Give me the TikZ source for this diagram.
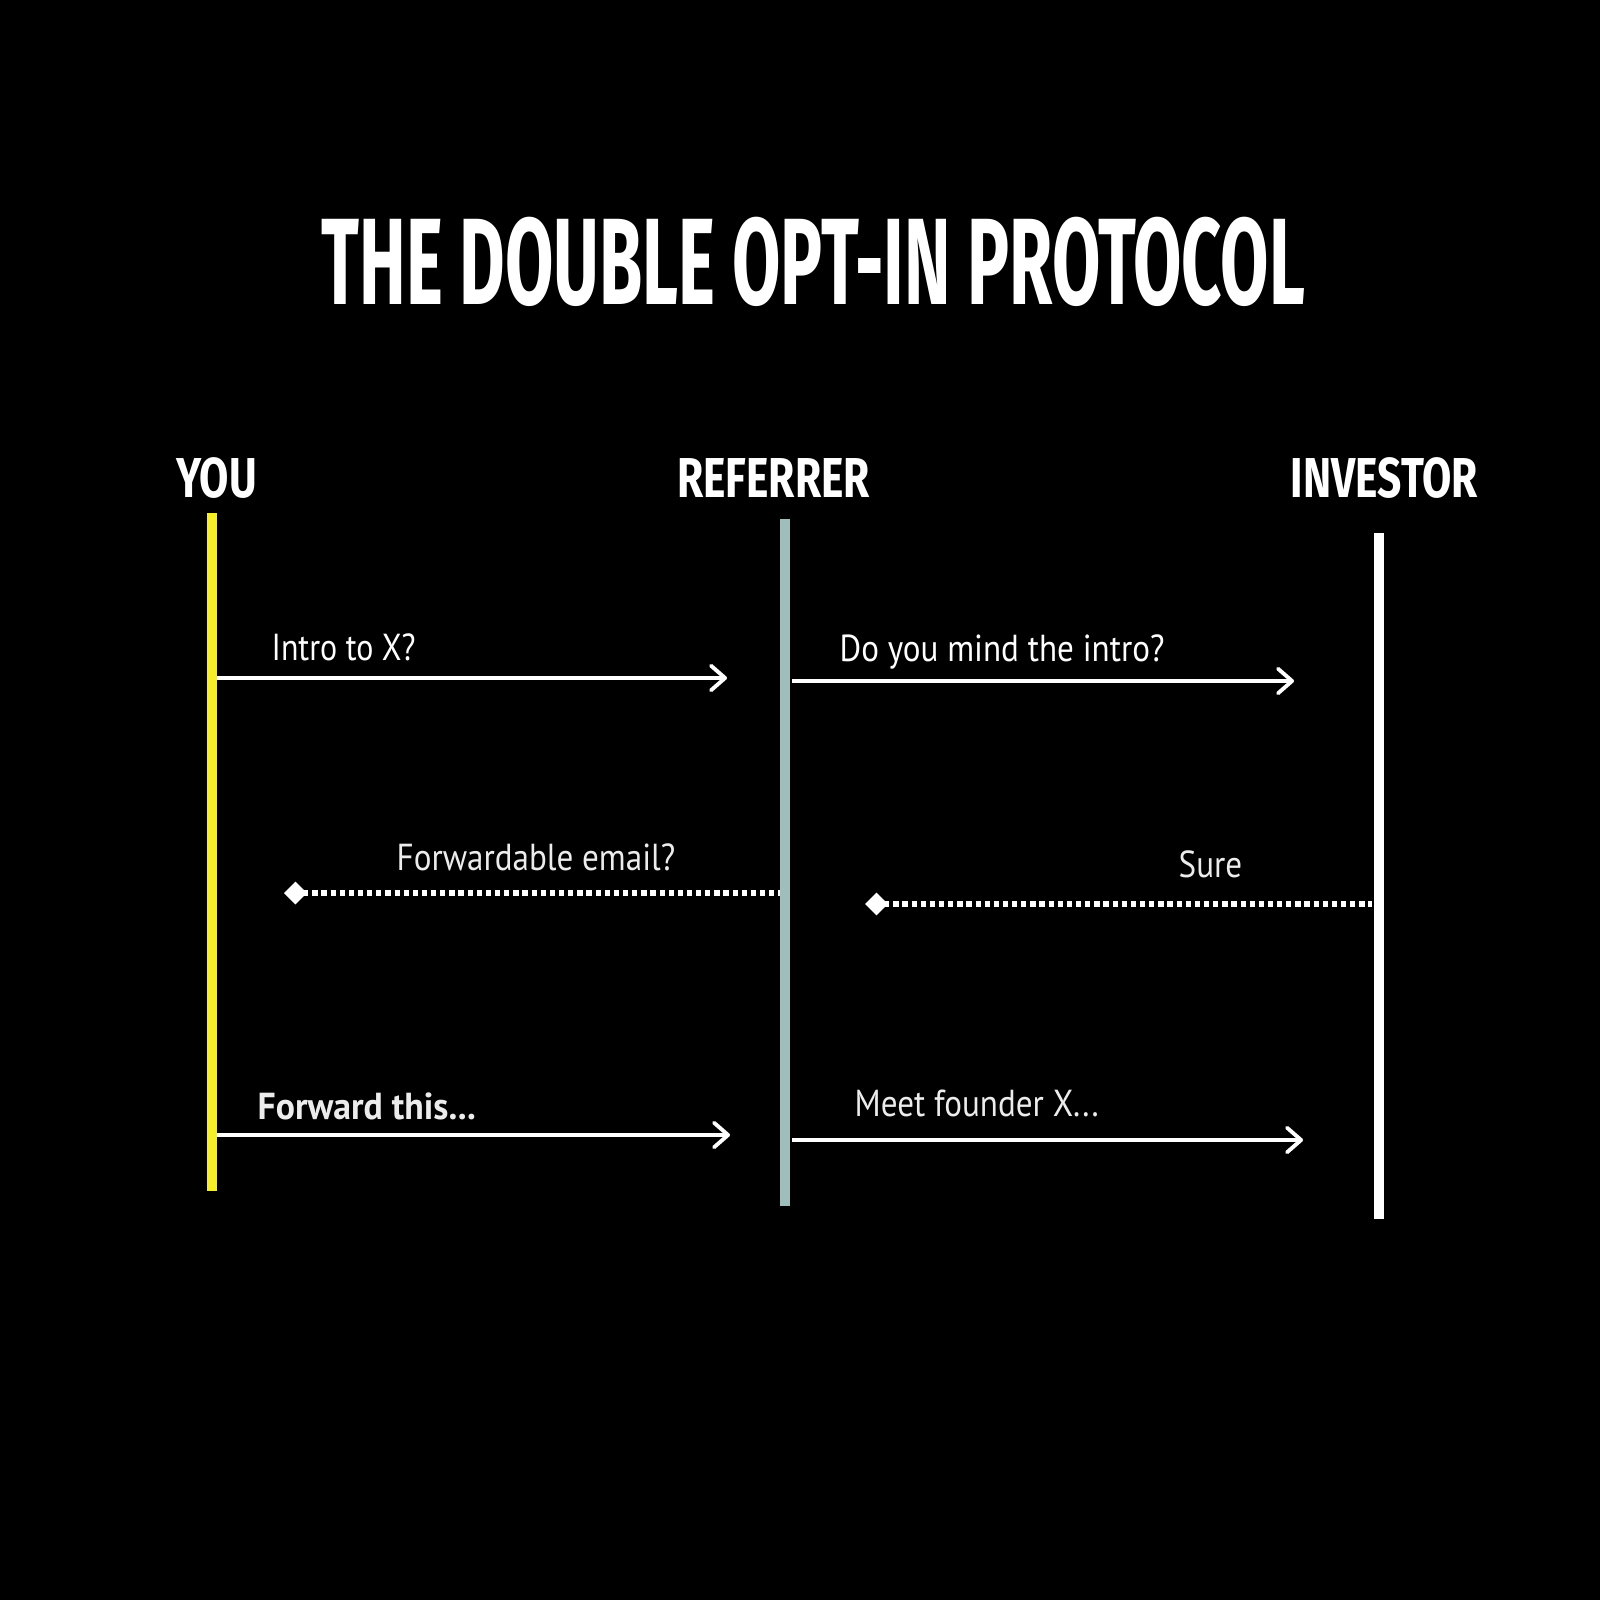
\documentclass[tikz,border=0pt]{standalone}
\usepackage{fontspec}
\setmainfont[FakeStretch=0.88]{PT Sans}
\newfontfamily\titlefont[FakeStretch=0.57]{Fira Sans}
\newfontfamily\headfont[FakeStretch=0.755]{Fira Sans}
\newfontfamily\narrowfont[FakeStretch=0.85]{PT Sans}
\newfontfamily\strongfont[FakeStretch=0.95]{PT Sans}
\usetikzlibrary{arrows.meta}

\definecolor{youline}{HTML}{F7EE2A}
\definecolor{refline}{HTML}{9FBDBA}
\definecolor{msgtext}{HTML}{ECECEC}

\tikzset{
  lifeline/.style={line width=2.85pt},
  msg/.style={white, line width=1.1pt, -{Straight Barb[length=4pt,width=7pt,round]}},
  reply/.style={white, line width=1.5pt, dash pattern=on 1.5pt off 1.1pt, {Diamond[length=6.5pt,width=6.5pt]}-},
  msglabel/.style={anchor=base west, text=msgtext, inner sep=0pt, font=\fontsize{10.7}{12}\selectfont},
  header/.style={text=white, inner sep=0pt, font=\headfont\bfseries\fontsize{16}{18}\selectfont}
}

\begin{document}
\begin{tikzpicture}
\useasboundingbox[fill=black] (0,0) rectangle (16,-16);

\node[text=white, inner sep=0pt, font=\titlefont\bfseries\fontsize{35}{40}\selectfont]
    (title) at (8.135,-2.62) {THE DOUBLE OPT-IN PROTOCOL};

    % the three parties
    \node[header] (you) at (2.165,-4.785) {YOU};
    \node[header] (referrer) at (7.735,-4.785) {REFERRER};
    \node[header] (investor) at (13.845,-4.785) {INVESTOR};

    \coordinate (you-top) at (2.12,-5.13);
    \coordinate (you-bot) at (2.12,-11.91);
    \coordinate (ref-top) at (7.85,-5.19);
    \coordinate (ref-bot) at (7.85,-12.06);
    \coordinate (inv-top) at (13.79,-5.33);
    \coordinate (inv-bot) at (13.79,-12.19);

    \draw[lifeline, youline] (you-top) -- (you-bot);
    \draw[lifeline, refline] (ref-top) -- (ref-bot);
    \draw[lifeline, white] (inv-top) -- (inv-bot);

    % messages
    \coordinate (ask-a) at (2.17,-6.78);
    \coordinate (ask-b) at (7.27,-6.78);
    \coordinate (check-a) at (7.92,-6.81);
    \coordinate (check-b) at (12.94,-6.81);
    \coordinate (fwd-a) at (7.80,-8.93);
    \coordinate (fwd-b) at (2.84,-8.93);
    \coordinate (sure-a) at (13.72,-9.04);
    \coordinate (sure-b) at (8.65,-9.04);
    \coordinate (send-a) at (2.17,-11.35);
    \coordinate (send-b) at (7.30,-11.35);
    \coordinate (meet-a) at (7.92,-11.40);
    \coordinate (meet-b) at (13.03,-11.40);

    \draw[msg] (ask-a) -- (ask-b);
    \draw[msg] (check-a) -- (check-b);
    \draw[reply] (fwd-b) -- (fwd-a);
    \draw[reply] (sure-b) -- (sure-a);
    \draw[msg] (send-a) -- (send-b);
    \draw[msg] (meet-a) -- (meet-b);

    \node[msglabel, font=\narrowfont\fontsize{10.7}{12}\selectfont, text=white] (ask) at (2.71,-6.60) {Intro to X?};
    \node[msglabel, text=white] (check) at (8.39,-6.61) {Do you mind the intro?};
    \node[msglabel] (fwd) at (3.96,-8.70) {Forwardable email?};
    \node[msglabel] (sure) at (11.78,-8.77) {Sure};
    \node[msglabel, font=\strongfont\bfseries\fontsize{10.7}{12}\selectfont] (send) at (2.57,-11.19) {Forward this...};
    \node[msglabel] (meet) at (8.54,-11.16) {Meet founder X...};
\end{tikzpicture}
\end{document}
